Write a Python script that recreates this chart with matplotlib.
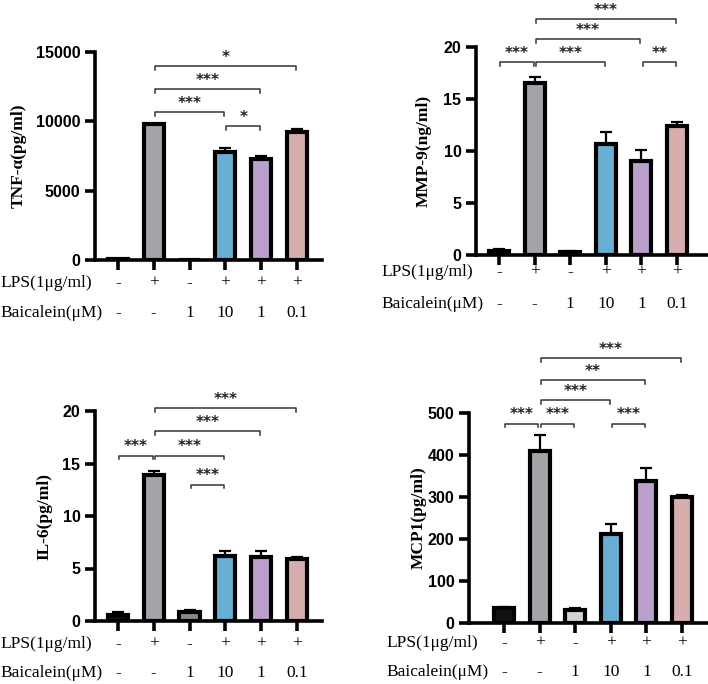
import numpy as np
import matplotlib
matplotlib.use("Agg")
from matplotlib import pyplot as plt
from matplotlib.transforms import blended_transform_factory

# group labels (rows under the bars)
lps_row = ["-", "+", "-", "+", "+", "+"]
baic_row = ["-", "-", "1", "10", "1", "0.1"]

# TNF-alpha (pg/ml)
tnf_mean = [50, 9780, 0, 7820, 7310, 9250]
tnf_err = [20, 60, 0, 260, 220, 220]
tnf_sig = [(1, 3, 10650, "***"), (3, 4, 9680, "*"), (1, 4, 12300, "***"), (1, 5, 13980, "*")]

# MMP-9 (ng/ml)
mmp_mean = [0.42, 16.5, 0.30, 10.7, 9.05, 12.4]
mmp_err = [0.12, 0.62, 0.12, 1.15, 1.0, 0.42]
mmp_sig = [(0, 1, 18.55, "***"), (1, 3, 18.55, "***"), (4, 5, 18.55, "**"),
           (1, 4, 20.75, "***"), (1, 5, 22.7, "***")]

# IL-6 (pg/ml)
il6_mean = [0.58, 13.9, 0.84, 6.2, 6.07, 5.86]
il6_err = [0.32, 0.42, 0.22, 0.42, 0.62, 0.26]
il6_sig = [(0, 1, 15.75, "***"), (1, 3, 15.75, "***"), (2, 3, 13.0, "***"),
           (1, 4, 18.05, "***"), (1, 5, 20.25, "***")]

# MCP1 (pg/ml)
mcp_mean = [35, 410, 30, 211, 337, 301]
mcp_err = [3, 38, 6, 24, 31, 4]
mcp_sig = [(0, 1, 475, "***"), (1, 2, 475, "***"), (3, 4, 475, "***"),
           (1, 3, 530, "***"), (1, 4, 578, "**"), (1, 5, 631, "***")]

gray = "#a3a3a8"
blue = "#6aaed3"
purple = "#bb9fcb"
pink = "#d6aeae"

W, H = 708, 684
fig = plt.figure(figsize=(W / 100, H / 100), dpi=100)

def px_axes(l, r, b, t):
    return fig.add_axes([l / W, 1 - b / H, (r - l) / W, (b - t) / H])

def panel(ax, mean, err, sig, colors, ymax, step, ylabel, xlim, label_x, ylab_x, row_y):
    x = np.arange(len(mean))
    ax.bar(x, mean, width=0.56, color=colors, edgecolor="black", linewidth=3.0, zorder=3)
    ax.errorbar(x, mean, yerr=[np.zeros(len(err)), err], fmt="none", ecolor="black",
                elinewidth=1.6, capsize=4.5, capthick=1.6, zorder=2)
    ax.set_xlim(*xlim)
    ax.set_ylim(0, ymax)
    ax.set_yticks(np.arange(0, ymax + 1e-9, step))
    ax.set_xticks(x)
    ax.set_xticklabels([])
    for s in ["top", "right"]:
        ax.spines[s].set_visible(False)
    for s in ["left", "bottom"]:
        ax.spines[s].set_linewidth(2.6)
    ax.tick_params(axis="both", width=2.6, length=7, direction="out")
    for lab in ax.get_yticklabels():
        lab.set_fontfamily("Liberation Sans")
        lab.set_fontweight("bold")
        lab.set_fontsize(11.5)
    ax.set_ylabel(ylabel, fontfamily="Liberation Serif", fontweight="bold", fontsize=12.5)
    ax.yaxis.set_label_coords((ylab_x - ax_left_px[ax]) / ax_w_px[ax], 0.5)

    tick = ymax * 0.018
    for a, b, y, stars in sig:
        xa, xb = a + 0.03, b - 0.03
        ax.plot([xa, xa, xb, xb], [y - tick, y, y, y - tick], color="#333333",
                lw=1.1, clip_on=False, zorder=4)
        ax.annotate(stars, ((xa + xb) / 2, y), xytext=(0, 3), textcoords="offset points",
                    ha="center", va="baseline", fontsize=11, fontweight="bold",
                    family="DejaVu Sans", color="#222222", annotation_clip=False)

    tr = blended_transform_factory(ax.transData, fig.transFigure)
    for i in range(len(x)):
        ax.text(x[i], 1 - row_y[0] / H, lps_row[i], transform=tr, ha="center", va="center",
                fontfamily="Liberation Serif", fontsize=12.5)
        ax.text(x[i], 1 - row_y[1] / H, baic_row[i], transform=tr, ha="center", va="center",
                fontfamily="Liberation Serif", fontsize=12.5)
    fig.text(label_x / W, 1 - row_y[0] / H, "LPS(1μg/ml)", ha="left", va="center",
             fontfamily="Liberation Serif", fontsize=12.5)
    fig.text(label_x / W, 1 - row_y[1] / H, "Baicalein(μM)", ha="left", va="center",
             fontfamily="Liberation Serif", fontsize=12.5)

ax_left_px = {}
ax_w_px = {}

boxes = [(95, 322, 260, 52), (476, 708, 255, 47), (95, 322, 621, 411), (469, 707, 623, 413)]
axes = []
for l, r, b, t in boxes:
    a = px_axes(l, r, b, t)
    ax_left_px[a] = l
    ax_w_px[a] = r - l
    axes.append(a)

panel(axes[0], tnf_mean, tnf_err, tnf_sig, ["black", gray, "black", blue, purple, pink],
      15000, 5000, "TNF-α(pg/ml)", (-0.64, 5.7), 0, 27, (283, 313))
panel(axes[1], mmp_mean, mmp_err, mmp_sig, ["#111111", gray, "#111111", blue, purple, pink],
      20, 5, "MMP-9(ng/ml)", (-0.65, 5.87), 381, 432, (272, 304))
panel(axes[2], il6_mean, il6_err, il6_sig, ["#111111", gray, "#8a8a8a", blue, purple, pink],
      20, 5, "IL-6(pg/ml)", (-0.64, 5.7), 0, 52, (644, 673))
panel(axes[3], mcp_mean, mcp_err, mcp_sig, ["#111111", gray, "#d3d3d3", blue, purple, pink],
      500, 100, "MCP1(pg/ml)", (-0.98, 5.7), 386, 427, (643, 672))

fig.savefig("out.png", dpi=100)
